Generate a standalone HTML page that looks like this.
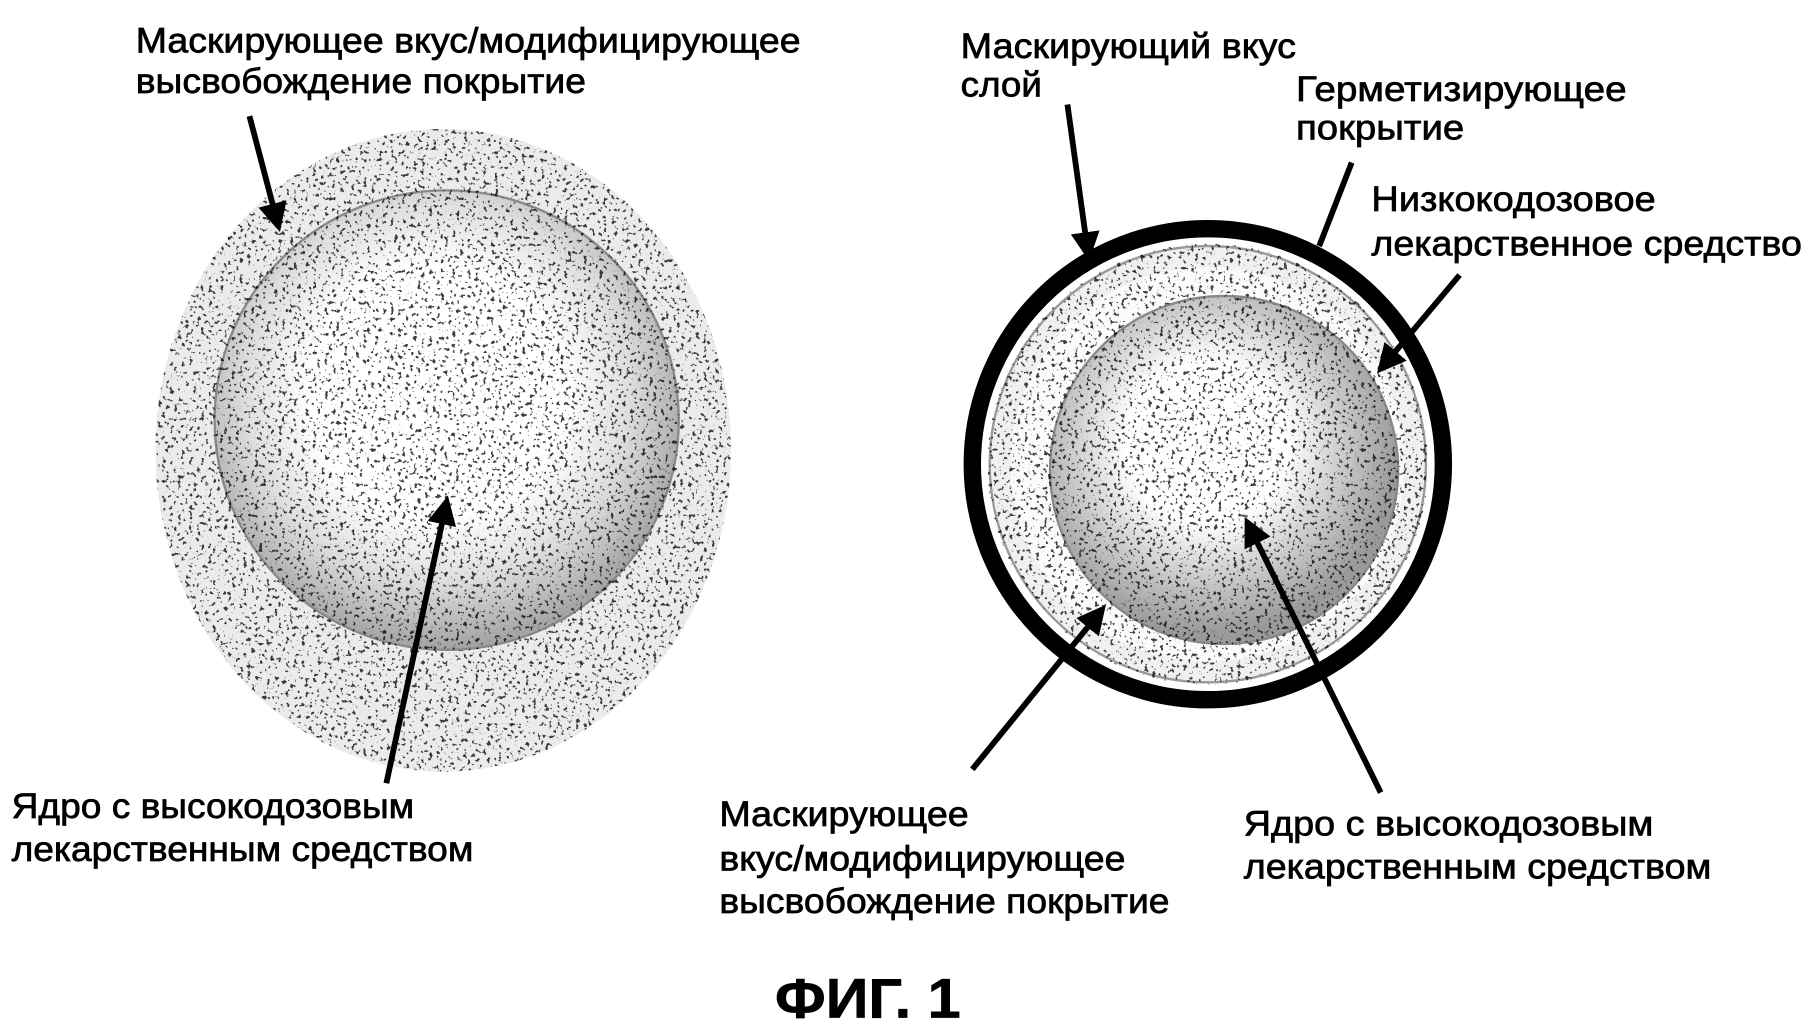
<!DOCTYPE html>
<html><head><meta charset="utf-8"><style>
html,body{margin:0;padding:0;background:#fff;}
svg{display:block}
text{font-family:"Liberation Sans",sans-serif;font-size:30px;fill:#000;stroke:#000;stroke-width:0.6}
</style></head><body>
<svg width="1810" height="1027" viewBox="0 0 1560 885" xmlns="http://www.w3.org/2000/svg">
<defs>
<filter id="speck" x="0" y="0" width="100%" height="100%">
<feTurbulence type="fractalNoise" baseFrequency="0.3" numOctaves="2" seed="3"/>
<feColorMatrix type="matrix" values="0 0 0 0 0  0 0 0 0 0  0 0 0 0 0  14 0 0 0 -8.6"/>
<feComposite in2="SourceGraphic" operator="in"/>
</filter>
<radialGradient id="coreL" cx="0.48" cy="0.44" r="0.55">
<stop offset="0" stop-color="#fff"/><stop offset="0.5" stop-color="#fff"/>
<stop offset="0.75" stop-color="#dedede"/><stop offset="1" stop-color="#a5a5a5"/>
</radialGradient>
<radialGradient id="coreR" cx="0.45" cy="0.42" r="0.55">
<stop offset="0" stop-color="#fff"/><stop offset="0.42" stop-color="#fff"/>
<stop offset="0.68" stop-color="#d0d0d0"/><stop offset="1" stop-color="#9a9a9a"/>
</radialGradient>
<marker id="ah" viewBox="0 0 10 10" refX="8" refY="5" markerWidth="5" markerHeight="5" orient="auto">
<path d="M0,0 L10,5 L0,10 z" fill="#000"/></marker>
</defs>

<!-- left pellet -->
<ellipse cx="382" cy="388" rx="248" ry="277" fill="#ebebeb"/>
<ellipse cx="385" cy="362" rx="200" ry="198" fill="url(#coreL)" stroke="#888" stroke-width="2"/>
<ellipse cx="382" cy="388" rx="248" ry="277" fill="#000" filter="url(#speck)" opacity="0.75"/>

<!-- right pellet -->
<circle cx="1041" cy="400" r="203" fill="#fff" stroke="#000" stroke-width="15"/>
<circle cx="1041" cy="400" r="188" fill="#f0f0f0" stroke="#999" stroke-width="2"/>
<circle cx="1041" cy="400" r="170" fill="#fbfbfb"/>
<circle cx="1055" cy="405" r="150" fill="url(#coreR)" stroke="#888" stroke-width="2"/>
<circle cx="1041" cy="400" r="190" fill="#000" filter="url(#speck)" opacity="0.75"/>

<!-- arrows -->
<g stroke="#000" stroke-width="5" fill="none">
<line x1="215" y1="100" x2="240" y2="195" marker-end="url(#ah)"/>
<line x1="333" y1="675" x2="385" y2="432" marker-end="url(#ah)"/>
<line x1="920" y1="90" x2="938" y2="220" marker-end="url(#ah)"/>
<line x1="1165" y1="140" x2="1137" y2="212"/>
<line x1="1258" y1="237" x2="1190" y2="318" marker-end="url(#ah)"/>
<line x1="838" y1="663" x2="950" y2="525" marker-end="url(#ah)"/>
<line x1="1190" y1="683" x2="1075" y2="450" marker-end="url(#ah)"/>
</g>

<!-- labels -->
<text x="117" y="45" textLength="573" lengthAdjust="spacingAndGlyphs">Маскирующее вкус/модифицирующее</text>
<text x="117" y="80" textLength="388" lengthAdjust="spacingAndGlyphs">высвобождение покрытие</text>
<text x="828" y="50" textLength="289" lengthAdjust="spacingAndGlyphs">Маскирующий вкус</text>
<text x="828" y="83" textLength="70" lengthAdjust="spacingAndGlyphs">слой</text>
<text x="1117" y="87" textLength="285" lengthAdjust="spacingAndGlyphs">Герметизирующее</text>
<text x="1117" y="120" textLength="145" lengthAdjust="spacingAndGlyphs">покрытие</text>
<text x="1182" y="182" textLength="245" lengthAdjust="spacingAndGlyphs">Низкокодозовое</text>
<text x="1182" y="220" textLength="371" lengthAdjust="spacingAndGlyphs">лекарственное средство</text>
<text x="10" y="705" textLength="347" lengthAdjust="spacingAndGlyphs">Ядро с высокодозовым</text>
<text x="10" y="742" textLength="398" lengthAdjust="spacingAndGlyphs">лекарственным средством</text>
<text x="620" y="712" textLength="215" lengthAdjust="spacingAndGlyphs">Маскирующее</text>
<text x="620" y="750" textLength="350" lengthAdjust="spacingAndGlyphs">вкус/модифицирующее</text>
<text x="620" y="787" textLength="388" lengthAdjust="spacingAndGlyphs">высвобождение покрытие</text>
<text x="1072" y="720" textLength="353" lengthAdjust="spacingAndGlyphs">Ядро с высокодозовым</text>
<text x="1072" y="757" textLength="403" lengthAdjust="spacingAndGlyphs">лекарственным средством</text>
<text x="668" y="877" textLength="160" lengthAdjust="spacingAndGlyphs" style="font-size:48px;font-weight:bold">ФИГ. 1</text>
</svg>
</body></html>
